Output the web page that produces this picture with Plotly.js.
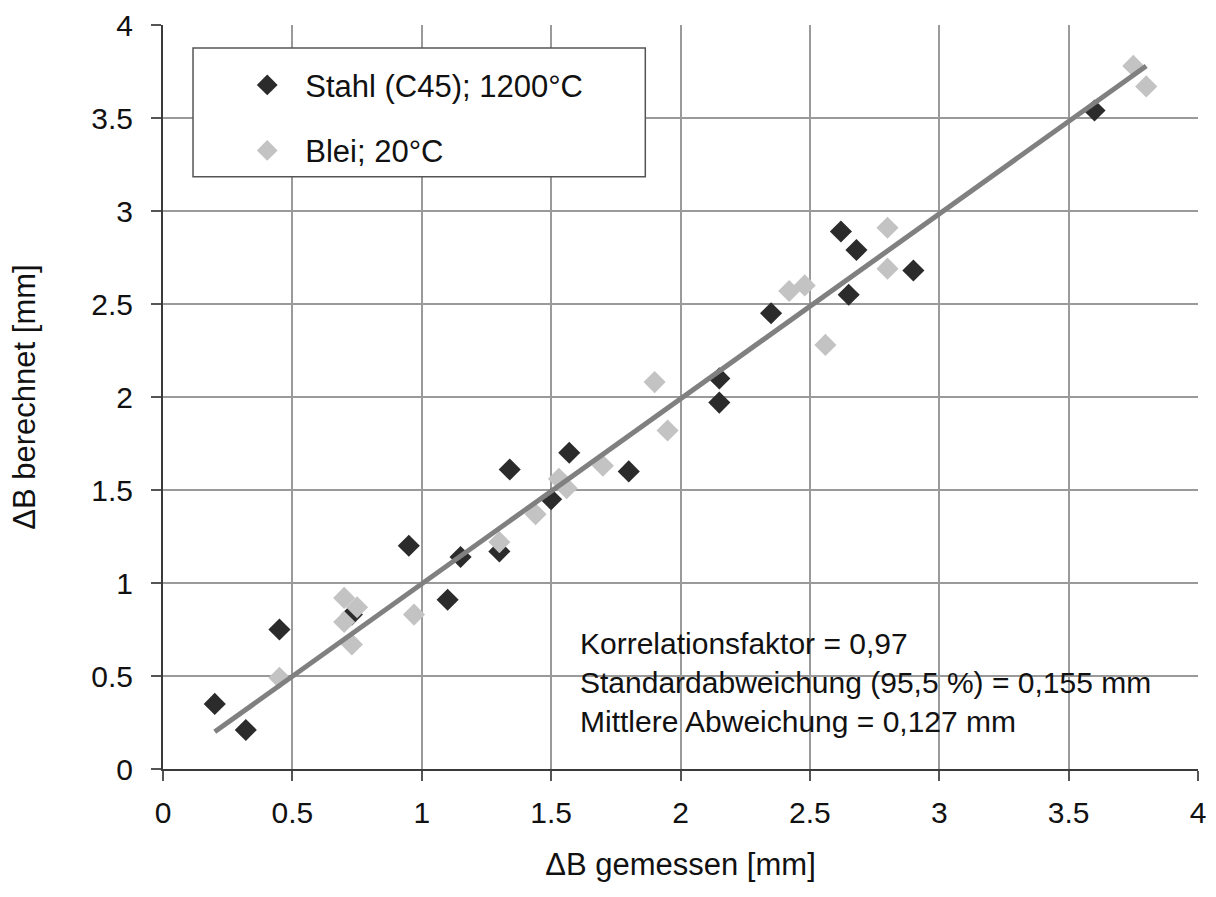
<!DOCTYPE html>
<html>
<head>
<meta charset="utf-8">
<script src="https://cdn.plot.ly/plotly-3.0.1.min.js"></script>
<style>
  html, body { margin: 0; padding: 0; background: #ffffff; }
  #chart { width: 1216px; height: 897px; }
</style>
</head>
<body>
<div id="chart"></div>
<script>
// Steel (C45) at 1200 °C: measured vs. calculated width change [mm]
const steelMeasured   = [0.20, 0.32, 0.45, 0.73, 0.95, 1.10, 1.15, 1.30, 1.34, 1.50, 1.57, 1.80, 2.15, 2.15, 2.35, 2.62, 2.65, 2.68, 2.90, 3.60];
const steelCalculated = [0.35, 0.21, 0.75, 0.83, 1.20, 0.91, 1.14, 1.17, 1.61, 1.45, 1.70, 1.60, 2.10, 1.97, 2.45, 2.89, 2.55, 2.79, 2.68, 3.54];

// Lead at 20 °C
const leadMeasured   = [0.45, 0.70, 0.70, 0.75, 0.73, 0.97, 1.30, 1.44, 1.53, 1.56, 1.70, 1.90, 1.95, 2.42, 2.48, 2.56, 2.80, 2.80, 3.75, 3.80];
const leadCalculated = [0.49, 0.92, 0.79, 0.87, 0.67, 0.83, 1.22, 1.37, 1.56, 1.51, 1.63, 2.08, 1.82, 2.57, 2.60, 2.28, 2.91, 2.69, 3.78, 3.67];

// Regression line end points
const fitX = [0.20, 3.80];
const fitY = [0.20, 3.78];

// Series names and statistics text
const seriesNames = ['Stahl (C45); 1200°C', 'Blei; 20°C'];
const statsLines = [
  'Korrelationsfaktor = 0,97',
  'Standardabweichung (95,5 %) = 0,155 mm',
  'Mittlere Abweichung = 0,127 mm'
];
const tickVals = [0, 0.5, 1, 1.5, 2, 2.5, 3, 3.5, 4];

const FONT = 'Liberation Sans, Arial, sans-serif';

const traces = [
  {
    x: steelMeasured, y: steelCalculated,
    type: 'scatter', mode: 'markers', name: seriesNames[0],
    marker: { symbol: 'diamond', size: 17, color: '#2b2b2b' },
    legend: 'legend'
  },
  {
    x: leadMeasured, y: leadCalculated,
    type: 'scatter', mode: 'markers', name: seriesNames[1],
    marker: { symbol: 'diamond', size: 17, color: '#c3c3c3' },
    legend: 'legend2'
  },
  {
    x: fitX, y: fitY,
    type: 'scatter', mode: 'lines', showlegend: false,
    line: { color: '#808080', width: 5 }
  }
];

const axisCommon = {
  range: [0, 4],
  tickvals: tickVals,
  showgrid: true,
  gridcolor: '#9a9a9a',
  gridwidth: 2,
  zeroline: false,
  showline: true,
  linecolor: '#3a3a3a',
  linewidth: 2,
  ticks: 'outside',
  ticklen: 10,
  tickwidth: 2,
  tickcolor: '#555555',
  tickfont: { family: FONT, size: 30, color: '#111111' },
  fixedrange: true
};

const legendCommon = {
  bgcolor: 'rgba(0,0,0,0)',
  borderwidth: 0,
  font: { family: FONT, size: 31, color: '#111111' },
  itemwidth: 66,
  xanchor: 'left',
  yanchor: 'middle',
  x: 0.064
};

const layout = {
  width: 1216,
  height: 897,
  margin: { l: 163, r: 18, t: 25, b: 128 },
  paper_bgcolor: '#ffffff',
  plot_bgcolor: '#ffffff',
  font: { family: FONT, color: '#111111' },
  xaxis: Object.assign({}, axisCommon, {
    ticklabelstandoff: 6,
    title: { text: 'ΔB gemessen [mm]', font: { family: FONT, size: 31, color: '#111111' }, standoff: 25 }
  }),
  yaxis: Object.assign({}, axisCommon, {
    ticklabelstandoff: 12,
    title: { text: 'ΔB berechnet [mm]', font: { family: FONT, size: 31, color: '#111111' }, standoff: 46 }
  }),
  legend: Object.assign({}, legendCommon, { y: 0.919 }),
  legend2: Object.assign({}, legendCommon, { y: 0.831 }),
  shapes: [
    {
      type: 'rect', xref: 'paper', yref: 'paper',
      x0: 0.029, x1: 0.466, y0: 0.796, y1: 0.969,
      fillcolor: '#ffffff',
      line: { color: '#555555', width: 1.5 },
      layer: 'above'
    }
  ],
  annotations: [
    {
      text: statsLines.join('<br>'),
      xref: 'paper', yref: 'paper',
      x: 0.401, y: 0.116,
      xanchor: 'left', yanchor: 'middle', align: 'left',
      showarrow: false,
      font: { family: FONT, size: 30, color: '#111111' }
    }
  ],
  showlegend: true
};

Plotly.newPlot('chart', traces, layout, { displayModeBar: false, staticPlot: true });
</script>
</body>
</html>
